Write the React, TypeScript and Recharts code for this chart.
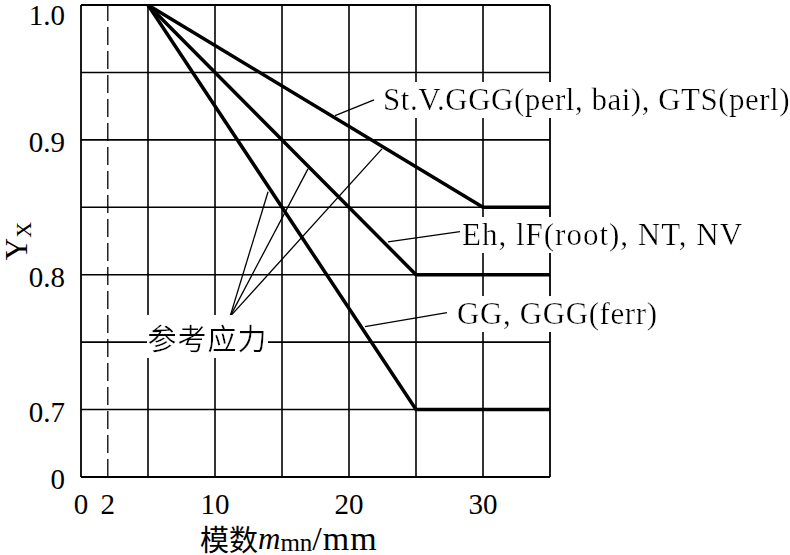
import React from 'react';
import { LineChart, Line, XAxis, YAxis, CartesianGrid, ReferenceLine, ReferenceDot } from 'recharts';

// ---- data ----
const xTickValues = [0, 2, 10, 20, 30];
const yTickValues = [0.65, 0.7, 0.75, 0.8, 0.85, 0.9, 0.95, 1.0];
const yTickText = ['0', '0.7', '', '0.8', '', '0.9', '', '1.0'];
const gridX = [5, 10, 15, 20, 25, 30];
const dashedX = 2;

const perlX = [5, 30, 35];
const perlY = [1.0, 0.85, 0.85];
const rootX = [5, 25, 35];
const rootY = [1.0, 0.8, 0.8];
const ferrX = [5, 25, 35];
const ferrY = [1.0, 0.7, 0.7];

const labelPerl = 'St.V.GGG(perl, bai), GTS(perl)';
const labelRoot = 'Eh, lF(root), NT, NV';
const labelFerr = 'GG, GGG(ferr)';
const labelRef = '参考应力';

const leaderPerl = [{ x: 18.96, y: 0.918 }, { x: 21.87, y: 0.9296 }];
const leaderRoot = [{ x: 22.91, y: 0.8244 }, { x: 28.28, y: 0.8319 }];
const leaderFerr = [{ x: 21.19, y: 0.7615 }, { x: 27.31, y: 0.7719 }];
const refApex = { x: 11.12, y: 0.7689 };
const refEnds = [{ x: 13.96, y: 0.8615 }, { x: 16.94, y: 0.8785 }, { x: 22.46, y: 0.8933 }];

const textPerl = { x: 22.54, y: 0.9296 };
const textRoot = { x: 28.43, y: 0.8296 };
const textFerr = { x: 28.06, y: 0.7711 };
const textRef = { x: 9.44, y: 0.7541 };

const toSeries = (xs: number[], ys: number[]) => xs.map((x, i) => ({ x, y: ys[i] }));
const perlData = toSeries(perlX, perlY);
const rootData = toSeries(rootX, rootY);
const ferrData = toSeries(ferrX, ferrY);

const SERIF = '"Liberation Serif", "Times New Roman", "Noto Sans CJK SC", serif';
const CJK = '"Noto Sans CJK SC", sans-serif';
const FS = 29;

const makeLabel = (text: string, anchor: 'start' | 'middle', font: string, size: number, spacing: number) => (props: any) => {
  const vb = props.viewBox || {};
  return (
    <g>
      <defs>
        <filter id="whitebg" x="0" y="0" width="1" height="1">
          <feFlood floodColor="#ffffff" />
          <feComposite in="SourceGraphic" operator="over" />
        </filter>
      </defs>
      <text
        x={vb.x}
        y={vb.y}
        textAnchor={anchor}
        dominantBaseline="central"
        fontFamily={font}
        fontSize={size}
        letterSpacing={spacing}
        fill="#000"
        filter="url(#whitebg)"
      >
        {text}
      </text>
    </g>
  );
};

const YTick = (props: any) => {
  const { x, y, payload } = props;
  const idx = yTickValues.findIndex((v) => Math.abs(v - payload.value) < 1e-6);
  const t = idx >= 0 ? yTickText[idx] : '';
  if (!t) return null;
  const isTop = idx === yTickValues.length - 1;
  return (
    <text x={x - 8} y={y + (isTop ? 10 : 2)} textAnchor="end" dominantBaseline="central" fontFamily={SERIF} fontSize={FS} fill="#000">
      {t}
    </text>
  );
};

const XTick = (props: any) => {
  const { x, y, payload } = props;
  return (
    <text x={x} y={y + 19} textAnchor="middle" dominantBaseline="central" fontFamily={SERIF} fontSize={FS} fill="#000">
      {String(payload.value)}
    </text>
  );
};

const XLabel = (props: any) => {
  const vb = props.viewBox || {};
  return (
    <text x={vb.x + 119} y={vb.y + 61} textAnchor="start" dominantBaseline="central" fontFamily={SERIF} fontSize={31} fill="#000">
      <tspan fontFamily={CJK} fontSize={29}>模数</tspan>
      <tspan fontStyle="italic">m</tspan>
      <tspan fontSize={25} dy={4}>mn</tspan>
      <tspan dy={-4} fontSize={34} letterSpacing={1}>/mm</tspan>
    </text>
  );
};

const YLabel = (props: any) => {
  const vb = props.viewBox || {};
  const cx = 16;
  const cy = vb.y + vb.height / 2;
  return (
    <text transform={`translate(${cx},${cy}) rotate(-90)`} textAnchor="middle" dominantBaseline="central" fontFamily={SERIF} fontSize={31} fill="#000">
      Y<tspan fontSize={22} dy={7}>X</tspan>
    </text>
  );
};

export default function App() {
  return (
    <div style={{ position: 'absolute', left: 0, top: 0, background: '#fff' }}>
      <LineChart width={790} height={555} margin={{ top: 5, right: 240, left: 0, bottom: 0 }}>
        <CartesianGrid vertical={false} stroke="#000" strokeWidth={1.6} />
        <XAxis
          type="number"
          dataKey="x"
          domain={[0, 35]}
          ticks={xTickValues}
          allowDataOverflow
          tickLine={false}
          axisLine={{ stroke: '#000', strokeWidth: 1.8 }}
          height={78}
          tick={<XTick />}
          interval={0}
          label={<XLabel />}
        />
        <YAxis
          type="number"
          dataKey="y"
          domain={[0.65, 1.0]}
          ticks={yTickValues}
          allowDataOverflow
          tickLine={false}
          axisLine={{ stroke: '#000', strokeWidth: 1.8 }}
          width={81}
          tick={<YTick />}
          interval={0}
          label={<YLabel />}
        />
        {gridX.map((gx) => (
          <ReferenceLine key={gx} x={gx} stroke="#000" strokeWidth={1.6} />
        ))}
        <ReferenceLine x={35} stroke="#000" strokeWidth={1.8} />
        <ReferenceLine y={1.0} stroke="#000" strokeWidth={1.8} />
        <ReferenceLine x={dashedX} stroke="#000" strokeWidth={1.3} strokeDasharray="18 6" />

        <Line data={perlData} dataKey="y" type="linear" stroke="#000" strokeWidth={3.5} dot={false} isAnimationActive={false} />
        <Line data={rootData} dataKey="y" type="linear" stroke="#000" strokeWidth={3.5} dot={false} isAnimationActive={false} />
        <Line data={ferrData} dataKey="y" type="linear" stroke="#000" strokeWidth={3.5} dot={false} isAnimationActive={false} />

        <ReferenceLine segment={leaderPerl} stroke="#000" strokeWidth={1.3} ifOverflow="visible" />
        <ReferenceLine segment={leaderRoot} stroke="#000" strokeWidth={1.3} ifOverflow="visible" />
        <ReferenceLine segment={leaderFerr} stroke="#000" strokeWidth={1.3} ifOverflow="visible" />
        {refEnds.map((e, i) => (
          <ReferenceLine key={'r' + i} segment={[refApex, e]} stroke="#000" strokeWidth={1.3} ifOverflow="visible" />
        ))}

        <ReferenceDot x={textPerl.x} y={textPerl.y} r={0} fill="none" stroke="none" ifOverflow="visible" label={makeLabel(labelPerl, 'start', SERIF, 31, 0.5)} />
        <ReferenceDot x={textRoot.x} y={textRoot.y} r={0} fill="none" stroke="none" ifOverflow="visible" label={makeLabel(labelRoot, 'start', SERIF, 31, 1.0)} />
        <ReferenceDot x={textFerr.x} y={textFerr.y} r={0} fill="none" stroke="none" ifOverflow="visible" label={makeLabel(labelFerr, 'start', SERIF, 31, 0.6)} />
        <ReferenceDot x={textRef.x} y={textRef.y} r={0} fill="none" stroke="none" ifOverflow="visible" label={makeLabel(labelRef, 'middle', CJK, 29, 1)} />
      </LineChart>
    </div>
  );
}
